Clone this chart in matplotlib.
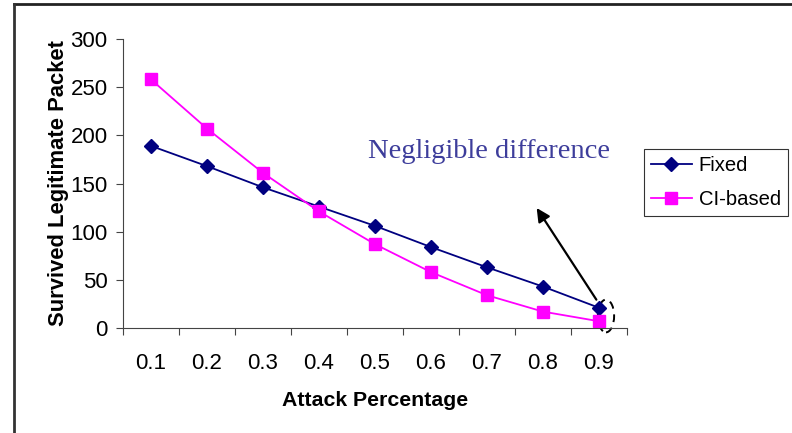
import matplotlib.pyplot as plt
from matplotlib.lines import Line2D
from matplotlib.patches import Ellipse

attack = ["0.1", "0.2", "0.3", "0.4", "0.5", "0.6", "0.7", "0.8", "0.9"]
fixed = [189, 168, 146, 126, 106, 84, 63, 43, 21]
ci_based = [258, 207, 161, 121, 87, 58, 34, 17, 7]

plt.rcParams['font.family'] = ['Liberation Sans', 'DejaVu Sans']

fig = plt.figure(figsize=(7.92, 4.33), dpi=100)
ax = fig.add_axes([123 / 792, 1 - 328 / 433, (627 - 123) / 792, (328 - 39) / 433])

x = list(range(len(attack)))
ax.plot(x, fixed, color='#000080', lw=1.3, marker='D', ms=7.5, label='Fixed')
ax.plot(x, ci_based, color='#ff00ff', lw=1.3, marker='s', ms=8, label='CI-based')

ax.set_xlim(-0.5, len(attack) - 0.5)
ax.set_ylim(0, 300)
ax.set_yticks(range(0, 301, 50))
ax.set_xticks(x)
ax.set_xticklabels(attack)
ax.set_xticks([i - 0.5 for i in range(len(attack) + 1)], minor=True)
ax.tick_params(axis='x', which='major', length=0, pad=18, labelsize=16)
ax.tick_params(axis='x', which='minor', length=5, width=0.8, direction='out', color='#444444')
ax.tick_params(axis='y', length=5, width=0.8, direction='out', labelsize=16, color='#444444', pad=6)

for s in ['top', 'right']:
    ax.spines[s].set_visible(False)
for s in ['left', 'bottom']:
    ax.spines[s].set_linewidth(0.8)
    ax.spines[s].set_color('#444444')

ax.set_xlabel('Attack Percentage', fontsize=15.3, fontweight='bold', labelpad=12)
ax.set_ylabel('Survived Legitimate Packet', fontsize=15.8, fontweight='bold', labelpad=1)

# note on the last point pair
ax.text(3.875, 183, 'Negligible difference', family='Liberation Serif', fontsize=20.5,
        color='#3d3d9b', ha='left', va='center')
ax.annotate('', xy=(6.86, 127), xytext=(7.98, 27),
            arrowprops=dict(arrowstyle='-|>', color='black', lw=1.6, mutation_scale=20))
ax.add_patch(Ellipse((8.125, 12.5), 0.29, 34, fill=False, ls=(0, (4, 3)), lw=1.4,
                     ec='black', clip_on=False))

leg = ax.legend(loc='upper left', bbox_to_anchor=(644 / 792, 1 - 149 / 433),
                bbox_transform=fig.transFigure, fontsize=14.6, frameon=True, fancybox=False,
                edgecolor='black', handlelength=2.0, borderpad=0.35, labelspacing=0.75,
                handletextpad=0.35, borderaxespad=0)
leg.get_frame().set_linewidth(0.8)

# outer frame lines on the top and left edges
fig.add_artist(Line2D([14 / 792, 1], [1 - 4 / 433] * 2, color='#222222', lw=2,
                      transform=fig.transFigure))
fig.add_artist(Line2D([14 / 792] * 2, [0, 1 - 4 / 433], color='#333333', lw=2,
                      transform=fig.transFigure))

fig.savefig('out.png', dpi=100)
